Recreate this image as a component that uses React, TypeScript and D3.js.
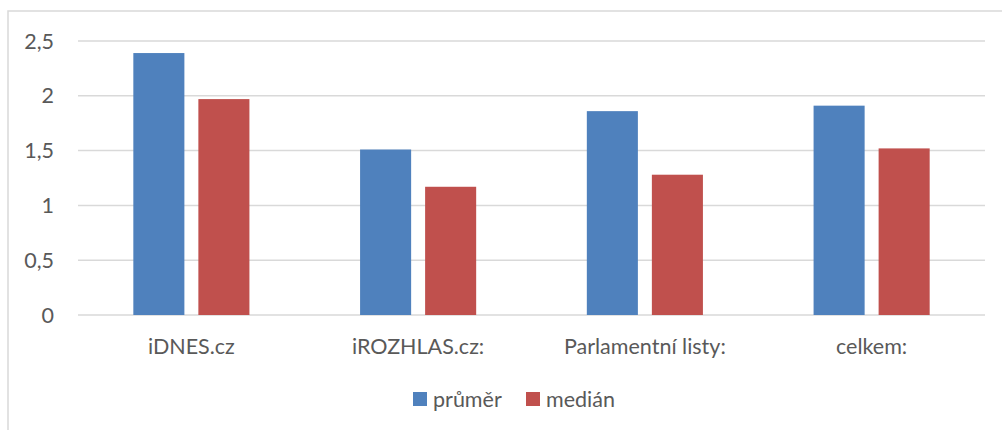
import React from 'react';
import * as d3 from 'd3';

const categories = ['iDNES.cz', 'iROZHLAS.cz:', 'Parlamentní listy:', 'celkem:'];
const seriesNames = ['průměr', 'medián'];
const prumer = [2.39, 1.51, 1.86, 1.91];
const median = [1.97, 1.17, 1.28, 1.52];
const yTicks = [0, 0.5, 1, 1.5, 2, 2.5];

const colors = ['#4f81bd', '#c0504d'];
const textColor = '#595959';
const gridColor = '#d9d9d9';
const font = 'Lato, "Open Sans", sans-serif';
const fontSize = 21.5;

const width = 1002;
const height = 430;
const plot = { left: 78, right: 985, top: 41, bottom: 315 };

export default function App() {
  const series = [prumer, median];

  const x0 = d3.scaleBand<string>()
    .domain(categories)
    .range([plot.left, plot.right])
    .padding(0);

  const y = d3.scaleLinear()
    .domain([0, 2.5])
    .range([plot.bottom, plot.top]);

  // groups are about half the band wide, bars separated by a small gap
  const groupWidth = x0.bandwidth() * 0.512;
  const x1 = d3.scaleBand<string>()
    .domain(seriesNames)
    .range([-groupWidth / 2, groupWidth / 2])
    .paddingInner(0.215)
    .paddingOuter(0);

  const fmt = (v: number) => String(v).replace('.', ',');

  return (
    <svg
      width={width}
      height={height}
      style={{ position: 'absolute', left: 0, top: 0, background: '#fff' }}
      fontFamily={font}
    >
      <rect x={8} y={11} width={1100} height={500} fill="#fff" stroke={gridColor} strokeWidth={1.5} />

      {yTicks.map(t => (
        <g key={t}>
          <line x1={plot.left} x2={plot.right} y1={y(t)} y2={y(t)} stroke={gridColor} strokeWidth={1.5} />
          <text x={54} y={y(t)} dy="0.35em" textAnchor="end" fontSize={fontSize} fill={textColor}>
            {fmt(t)}
          </text>
        </g>
      ))}

      {categories.map((c, i) => {
        const cx = (x0(c) ?? 0) + x0.bandwidth() / 2;
        return (
          <g key={c}>
            {seriesNames.map((s, j) => (
              <rect
                key={s}
                x={cx + (x1(s) ?? 0)}
                y={y(series[j][i])}
                width={x1.bandwidth()}
                height={y(0) - y(series[j][i])}
                fill={colors[j]}
              />
            ))}
            <text x={cx} y={346} dy="0.35em" textAnchor="middle" fontSize={fontSize} fill={textColor}>
              {c}
            </text>
          </g>
        );
      })}

      <g>
        <rect x={413} y={392} width={14} height={14} fill={colors[0]} />
        <text x={433} y={399} dy="0.35em" fontSize={fontSize} fill={textColor}>{seriesNames[0]}</text>
        <rect x={526} y={392} width={14} height={14} fill={colors[1]} />
        <text x={546} y={399} dy="0.35em" fontSize={fontSize} fill={textColor}>{seriesNames[1]}</text>
      </g>
    </svg>
  );
}
